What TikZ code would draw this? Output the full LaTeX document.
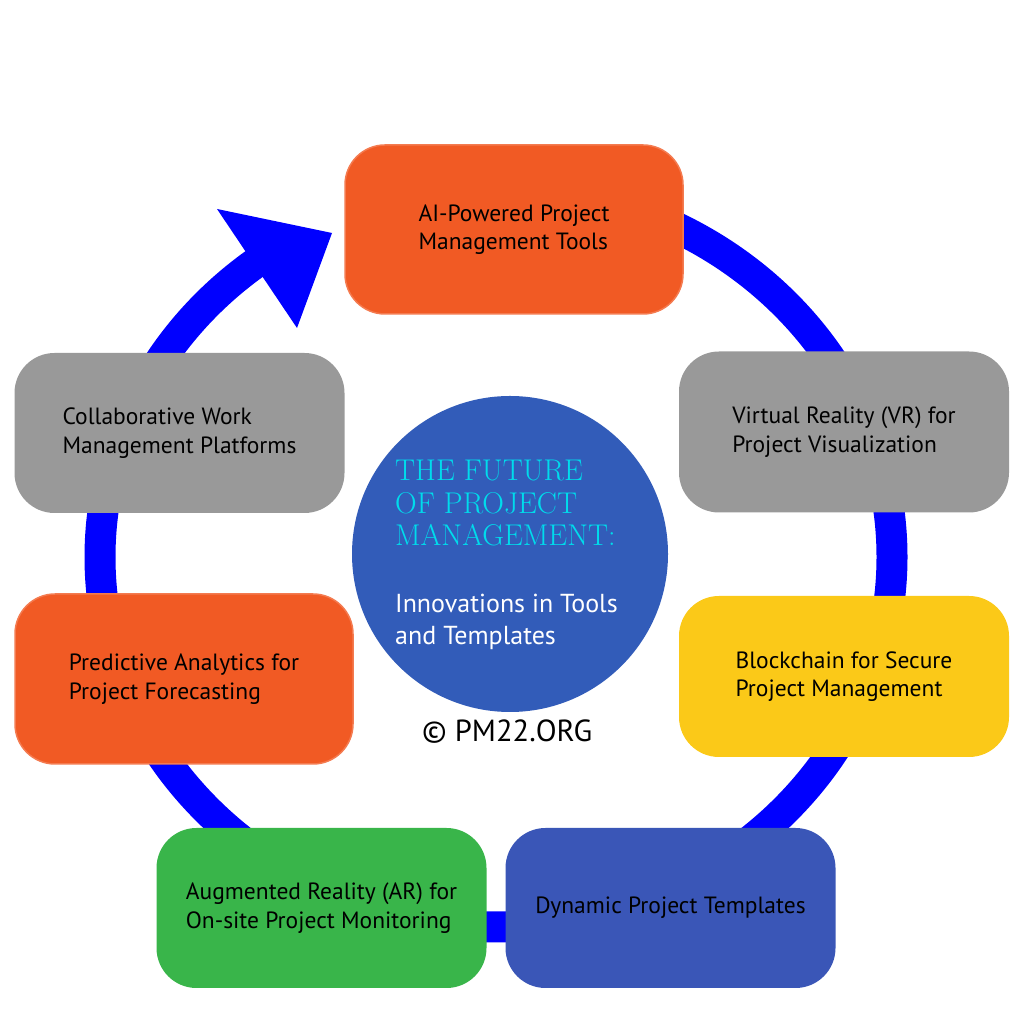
\documentclass[tikz,border=0pt]{standalone}
\usepackage{fontspec}
\newfontfamily\boxfont{PT Sans}
\usetikzlibrary{arrows.meta, positioning, calc}

\definecolor{pmorange}{RGB}{241,90,36}
\definecolor{pmgray}{RGB}{153,153,153}
\definecolor{pmyellow}{RGB}{251,201,24}
\definecolor{pmgreen}{RGB}{57,181,74}
\definecolor{pmbluebox}{RGB}{58,86,183}
\definecolor{pmcircle}{RGB}{50,92,185}
\definecolor{pmcyan}{RGB}{0,220,236}
\definecolor{ringblue}{RGB}{0,0,255}

\begin{document}
\begin{tikzpicture}[
    x=1pt, y=1pt,
    stage/.style={rounded corners=40pt, minimum width=330pt, minimum height=161pt,
        inner sep=0pt, align=left, text=black,
        font=\boxfont\fontsize{23.5}{28.5}\selectfont},
    ring/.style={draw=ringblue, line width=31pt}
]
\useasboundingbox (0,0) rectangle (1024,1024);

% the cycle and its head
\coordinate (ringtop) at (496,837);
\draw[ring] (ringtop) arc[start angle=90, end angle=-236, x radius=396pt, y radius=370pt];
\coordinate (headl) at (217,815);
\coordinate (headtip) at (332,791);
\coordinate (headr) at (297,696);
\fill[ringblue] (headl) -- (headtip) -- (headr) -- cycle;

% centre
\node[circle, fill=pmcircle, minimum size=316pt, inner sep=0pt] (future) at (510,470) {};
\node[anchor=north west, align=left, inner sep=0pt, text=pmcyan,
    font=\addfontfeatures{LetterSpace=2}\fontsize{30}{32.5}\selectfont] (title) at (395,564)
    {THE FUTURE\\OF PROJECT\\MANAGEMENT:};
\node[anchor=north west, align=left, inner sep=0pt, text=white,
    font=\boxfont\fontsize{26}{32}\selectfont] (subtitle) at (395,430)
    {Innovations in Tools\\and Templates};
\node[anchor=base west, inner sep=0pt, font=\boxfont\fontsize{30.5}{34}\selectfont]
    (copy) at (422,282) {© PM22.ORG};

% stages
\node[stage, fill=pmorange, draw=pmorange!80!white, line width=1.5pt,
    minimum width=338pt, minimum height=169pt] (aitools) at (514,794.5)
    {AI-Powered Project\\Management Tools};
\node[stage, fill=pmgray] (vr) at (844,592)
    {Virtual Reality (VR) for\\Project Visualization};
\node[stage, fill=pmyellow] (chain) at (844,347.5)
    {Blockchain for Secure\\Project Management};
\node[stage, fill=pmbluebox, minimum height=160pt] (templates) at (670.5,116)
    {Dynamic Project Templates};
\node[stage, fill=pmgreen, minimum height=160pt] (ar) at (321.5,116)
    {Augmented Reality (AR) for\\On-site Project Monitoring};
\node[stage, fill=pmorange, draw=pmorange!80!white, line width=1.5pt,
    minimum width=338pt, minimum height=170pt] (predict) at (184,345)
    {Predictive Analytics for\\Project Forecasting};
\node[stage, fill=pmgray, minimum height=160pt] (collab) at (179.5,591)
    {Collaborative Work\\Management Platforms};

\end{tikzpicture}
\end{document}
